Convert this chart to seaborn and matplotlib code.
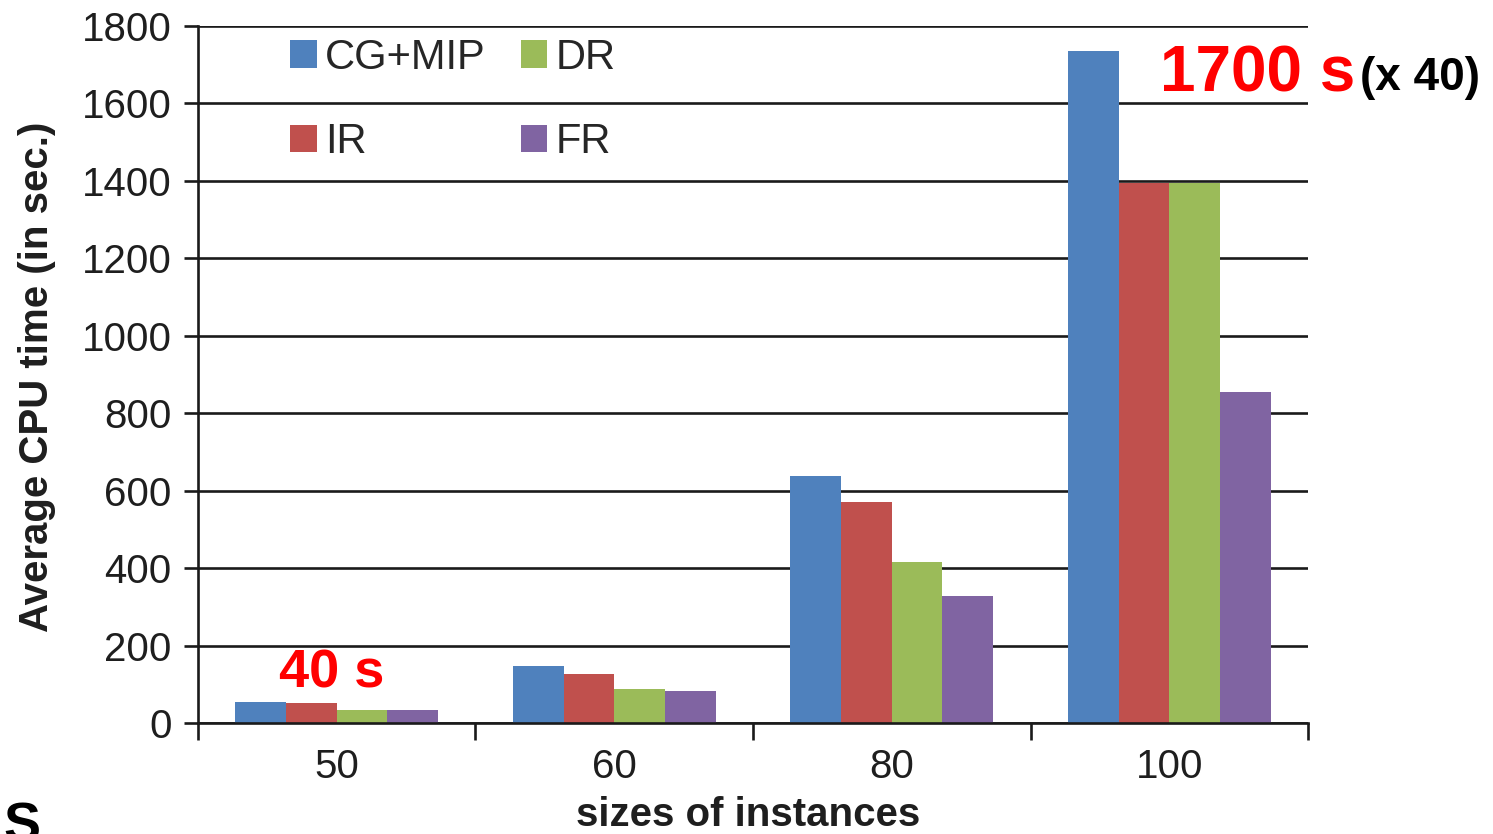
import matplotlib
matplotlib.use("Agg")
import matplotlib.pyplot as plt
import seaborn as sns
import pandas as pd
import numpy as np

# Average CPU time per instance size and solution method
sizes = ["50", "60", "80", "100"]
methods = ["CG+MIP", "IR", "DR", "FR"]
cg_mip = [55, 147, 638, 1735]
ir = [51, 127, 572, 1394]
dr = [34, 88, 417, 1394]
fr = [34, 83, 329, 855]
colors = ["#4F81BD", "#C0504D", "#9BBB59", "#8064A2"]
y_ticks = [0, 200, 400, 600, 800, 1000, 1200, 1400, 1600, 1800]

df = pd.DataFrame({
    "size": sizes * len(methods),
    "method": np.repeat(methods, len(sizes)),
    "time": cg_mip + ir + dr + fr,
})

sns.set_theme(style="white")
plt.rcParams["font.family"] = ["Liberation Sans", "DejaVu Sans"]

fig = plt.figure(figsize=(14.93, 8.34), dpi=100)
ax = fig.add_axes([0.1326, 0.1331, 0.7435, 0.8357])

sns.barplot(data=df, x="size", y="time", hue="method", order=sizes,
            hue_order=methods, palette=colors, saturation=1, width=0.73,
            linewidth=0, errorbar=None, ax=ax, zorder=2)

grid_col = "#1a1a1a"
ax.set_ylim(0, 1800)
ax.set_xlim(-0.5, 3.5)
ax.set_yticks(y_ticks)
ax.yaxis.grid(True, color=grid_col, linewidth=1.9)
ax.set_axisbelow(True)
ax.tick_params(axis="y", left=True, length=10, width=1.9, color=grid_col,
               direction="out", pad=9, labelsize=29, labelcolor="#1e1e1e")

# category boundaries carry the tick marks, labels sit between them
ax.set_xticks([-0.5, 0.5, 1.5, 2.5, 3.5])
ax.set_xticklabels([])
ax.set_xticks(range(len(sizes)), minor=True)
ax.set_xticklabels(sizes, minor=True)
ax.tick_params(axis="x", which="major", bottom=True, length=12, width=1.9,
               color=grid_col, direction="out")
ax.tick_params(axis="x", which="minor", bottom=True, length=0, pad=18,
               labelsize=29, labelcolor="#1e1e1e")

for side in ["top", "right"]:
    ax.spines[side].set_visible(False)
for side in ["left", "bottom"]:
    ax.spines[side].set_color(grid_col)
    ax.spines[side].set_linewidth(1.9)

ax.set_xlabel("")
ax.set_ylabel("")

sns.move_legend(ax, "upper left", bbox_to_anchor=(0.057, 1.025), ncol=2,
                frameon=False, title=None, fontsize=30, handlelength=0.63,
                handleheight=0.63, handletextpad=0.2, columnspacing=0.85,
                labelspacing=1.07, borderpad=0.2)

fig.text(0.0245, 0.548, "Average CPU time (in sec.)", rotation=90,
         ha="center", va="center", fontsize=29, fontweight="bold",
         color="#1e1e1e")
fig.text(0.501, 0.0228, "sizes of instances", ha="center", va="center",
         fontsize=29, fontweight="bold", color="#1e1e1e")

fig.text(0.2221, 1 - 688 / 834, "40 s", ha="center", va="baseline",
         fontsize=39, fontweight="bold", color="#ff0000")
fig.text(1160 / 1493, 1 - 91 / 834, "1700 s", ha="left", va="baseline",
         fontsize=46, fontweight="bold", color="#ff0000")
fig.text(1360 / 1493, 1 - 90 / 834, "(x 40)", ha="left", va="baseline",
         fontsize=33, fontweight="bold", color="#000000")
fig.text(0.002, 1 - 842 / 834, "S", ha="left", va="baseline",
         fontsize=40, fontweight="bold", color="#000000")

fig.savefig("out.png", dpi=100)
